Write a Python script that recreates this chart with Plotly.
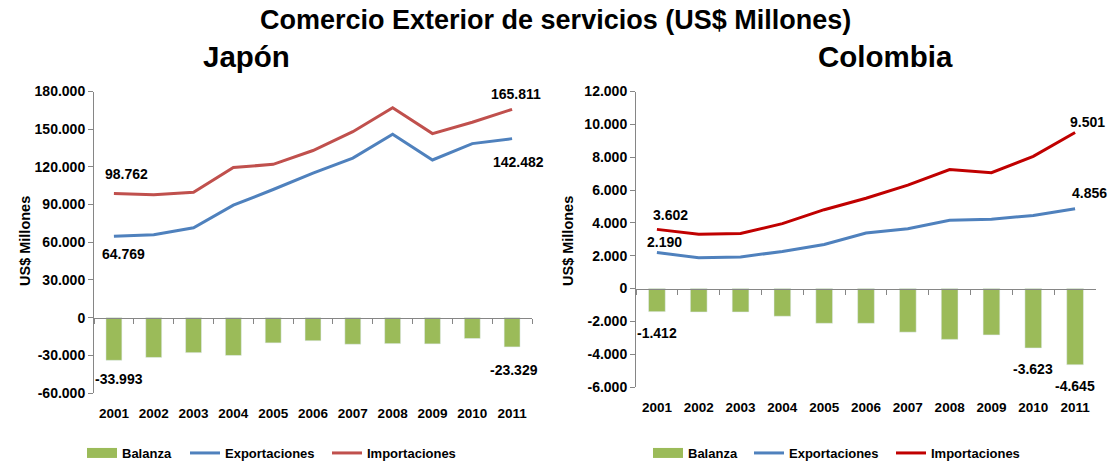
import plotly.graph_objects as go

years = ["2001", "2002", "2003", "2004", "2005", "2006", "2007", "2008", "2009", "2010", "2011"]

# Japón (US$ millones)
jp_export = [64769, 66000, 71500, 89500, 102000, 115000, 127000, 146000, 125500, 138500, 142482]
jp_import = [98762, 97800, 99800, 119500, 122000, 133000, 148000, 167000, 146500, 155500, 165811]
jp_balance = [-33993, -31700, -27900, -30100, -20100, -18400, -21200, -20700, -20900, -16600, -23329]

# Colombia (US$ millones)
co_export = [2190, 1870, 1920, 2260, 2680, 3380, 3640, 4150, 4220, 4450, 4856]
co_import = [3602, 3300, 3350, 3950, 4800, 5500, 6300, 7250, 7050, 8050, 9501]
co_balance = [-1412, -1430, -1430, -1690, -2120, -2120, -2660, -3100, -2830, -3623, -4645]

jp_ticks = [-60000, -30000, 0, 30000, 60000, 90000, 120000, 150000, 180000]
jp_ticktext = ["-60.000", "-30.000", "0", "30.000", "60.000", "90.000", "120.000", "150.000", "180.000"]
co_ticks = [-6000, -4000, -2000, 0, 2000, 4000, 6000, 8000, 10000, 12000]
co_ticktext = ["-6.000", "-4.000", "-2.000", "0", "2.000", "4.000", "6.000", "8.000", "10.000", "12.000"]

series_names = ["Balanza", "Exportaciones", "Importaciones"]

GREEN = "#9BBB59"
BLUE = "#4F81BD"
RED_L = "#C0504D"
RED_R = "#C00000"
AXIS = "#868686"
FONT = "Liberation Sans, Arial, sans-serif"
W, H = 1109, 462


def fmt(v):
    return f"{v:,}".replace(",", ".")


fig = go.Figure()


def add_panel(xa, ya, xz, bal, exp, imp, red, legs):
    fig.add_trace(go.Bar(x=years, y=bal, name=series_names[0], marker_color=GREEN,
                         xaxis=xa, yaxis=ya, showlegend=False))
    # legend-only swatch for the bar series (wide box as in the original)
    fig.add_trace(go.Scatter(x=[None], y=[None], name=series_names[0], mode="lines",
                             line=dict(color=GREEN, width=12), xaxis=xa, yaxis=ya, legend=legs[0]))
    fig.add_trace(go.Scatter(x=years, y=exp, name=series_names[1], mode="lines",
                             line=dict(color=BLUE, width=3), xaxis=xa, yaxis=ya, legend=legs[1]))
    fig.add_trace(go.Scatter(x=years, y=imp, name=series_names[2], mode="lines",
                             line=dict(color=red, width=3), xaxis=xa, yaxis=ya, legend=legs[2]))
    # invisible helper for the zero-crossing category axis
    fig.add_trace(go.Scatter(x=years, y=[0] * len(years), mode="markers", marker=dict(opacity=0),
                             showlegend=False, hoverinfo="skip", xaxis=xz, yaxis=ya))


add_panel("x", "y", "x3", jp_balance, jp_export, jp_import, RED_L, ["legend", "legend3", "legend5"])
add_panel("x2", "y2", "x4", co_balance, co_export, co_import, RED_R, ["legend2", "legend4", "legend6"])

jp_xdom = [94 / W, 532 / W]
jp_ydom = [(H - 393) / H, (H - 91.5) / H]
co_xdom = [636 / W, 1096 / W]
co_ydom = [(H - 387) / H, (H - 91.5) / H]
jp_range = [jp_ticks[0], jp_ticks[-1]]
co_range = [co_ticks[0], co_ticks[-1]]


def zero_pos(dom, rng):
    return dom[0] + (0 - rng[0]) / (rng[1] - rng[0]) * (dom[1] - dom[0])


tickfont = dict(family=FONT, size=14, color="black", weight="bold")
xtickfont = dict(family=FONT, size=13.5, color="black", weight="bold")

common_x = dict(type="category", categoryorder="array", categoryarray=years,
                range=[-0.5, len(years) - 0.5], showline=False, ticks="",
                showgrid=False, zeroline=False, tickfont=xtickfont, ticklabelstandoff=10)
zero_x = dict(type="category", categoryorder="array", categoryarray=years,
              range=[-0.5, len(years) - 0.5], showline=True, linecolor=AXIS, linewidth=1,
              ticks="outside", tickson="boundaries", ticklen=5, tickcolor=AXIS,
              showticklabels=False, showgrid=False, zeroline=False, anchor="free")
common_y = dict(showline=True, linecolor=AXIS, linewidth=1, ticks="outside", ticklen=5,
                tickcolor=AXIS, showgrid=False, zeroline=False, tickfont=tickfont)

legfont = dict(family=FONT, size=13, color="black", weight="bold")


def leg(xpx):
    return dict(orientation="h", x=xpx / W, y=(H - 453) / H, xanchor="left", yanchor="middle",
                font=legfont, bgcolor="rgba(0,0,0,0)", itemwidth=30)


fig.update_layout(
    width=W, height=H,
    margin=dict(l=0, r=0, t=0, b=0, autoexpand=False),
    paper_bgcolor="white", plot_bgcolor="white",
    bargap=0.6,
    font=dict(family=FONT, color="black"),
    xaxis=dict(domain=jp_xdom, anchor="y", **common_x),
    yaxis=dict(domain=jp_ydom, anchor="x", range=jp_range, tickvals=jp_ticks,
               ticktext=jp_ticktext, **common_y),
    xaxis3=dict(domain=jp_xdom, overlaying="x", position=zero_pos(jp_ydom, jp_range), **zero_x),
    xaxis2=dict(domain=co_xdom, anchor="y2", **common_x),
    yaxis2=dict(domain=co_ydom, anchor="x2", range=co_range, tickvals=co_ticks,
                ticktext=co_ticktext, **common_y),
    xaxis4=dict(domain=co_xdom, overlaying="x2", position=zero_pos(co_ydom, co_range), **zero_x),
    legend=leg(82), legend3=leg(185), legend5=leg(327),
    legend2=leg(648), legend4=leg(749), legend6=leg(891),
    showlegend=True,
)

ann = []
title_font = dict(family=FONT, size=27, color="black", weight="bold")
sub_font = dict(family=FONT, size=29.5, color="black", weight="bold")
ann.append(dict(text="Comercio Exterior de servicios (US$ Millones)", x=555 / W, y=(H - 20) / H,
                xref="paper", yref="paper", xanchor="center", yanchor="middle",
                showarrow=False, font=title_font))
ann.append(dict(text="Japón", x=246 / W, y=(H - 56) / H, xref="paper", yref="paper",
                xanchor="center", yanchor="middle", showarrow=False, font=sub_font))
ann.append(dict(text="Colombia", x=885 / W, y=(H - 56) / H, xref="paper", yref="paper",
                xanchor="center", yanchor="middle", showarrow=False, font=sub_font))
for xp in (25, 568):
    ann.append(dict(text="US$ Millones", x=xp / W, y=(H - 241) / H, xref="paper", yref="paper",
                    xanchor="center", yanchor="middle", showarrow=False, textangle=-90,
                    font=dict(family=FONT, size=14.5, color="black", weight="bold")))

lab_font = dict(family=FONT, size=14, color="black", weight="bold")


def label(xa, ya, i, series, dx, dy):
    ann.append(dict(text=fmt(series[i]), x=i, y=series[i], xref=xa, yref=ya,
                    xanchor="center", yanchor="middle",
                    showarrow=False, xshift=dx, yshift=dy, font=lab_font))


label("x", "y", 0, jp_import, 13, 20)
label("x", "y", 10, jp_import, 4, 15)
label("x", "y", 0, jp_export, 10, -18)
label("x", "y", 10, jp_export, 6, -23)
label("x", "y", 0, jp_balance, 5, -19)
label("x", "y", 10, jp_balance, 2, -23)

label("x2", "y2", 0, co_import, 14, 14)
label("x2", "y2", 10, co_import, 12, 11)
label("x2", "y2", 0, co_export, 8, 11)
label("x2", "y2", 10, co_export, 14, 16)
label("x2", "y2", 0, co_balance, 0, -21)
label("x2", "y2", 9, co_balance, 0, -21)
label("x2", "y2", 10, co_balance, 0, -21)

fig.update_layout(annotations=ann)

fig.write_html("out.html", config={"displayModeBar": False},
               post_script="document.body.style.margin='0';document.body.style.overflow='hidden';")
